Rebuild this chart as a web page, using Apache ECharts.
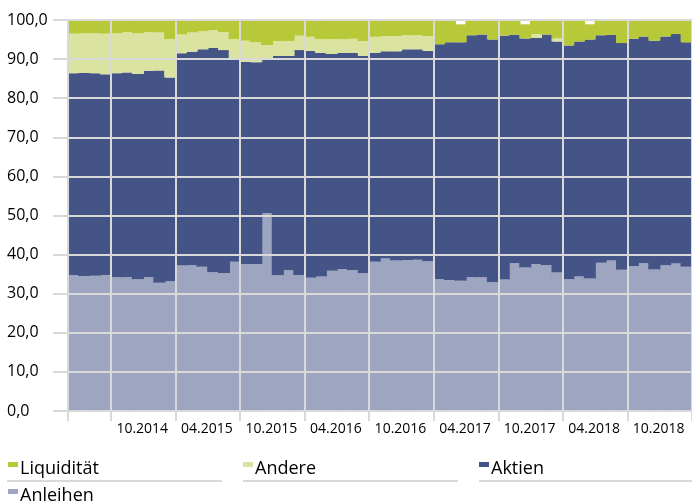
<!DOCTYPE html>
<html>
<head>
<meta charset="utf-8">
<script src="https://cdn.jsdelivr.net/npm/echarts@6/dist/echarts.min.js"></script>
<style>html,body{margin:0;padding:0;background:#fff;}#c{width:692px;height:502px;}</style>
</head>
<body>
<div id="c"></div>
<script>
var categories = [
 "06.2014","07.2014","08.2014","09.2014","10.2014","11.2014","12.2014","01.2015","02.2015","03.2015",
 "04.2015","05.2015","06.2015","07.2015","08.2015","09.2015","10.2015","11.2015","12.2015","01.2016",
 "02.2016","03.2016","04.2016","05.2016","06.2016","07.2016","08.2016","09.2016","10.2016","11.2016",
 "12.2016","01.2017","02.2017","03.2017","04.2017","05.2017","06.2017","07.2017","08.2017","09.2017",
 "10.2017","11.2017","12.2017","01.2018","02.2018","03.2018","04.2018","05.2018","06.2018","07.2018",
 "08.2018","09.2018","10.2018","11.2018","12.2018","01.2019","02.2019","03.2019"
];
var anleihen = [34.8,34.5,34.6,34.8,34.2,34.2,33.7,34.2,32.8,33.2,
 37.2,37.3,36.9,35.5,35.3,38.2,37.6,37.6,50.6,34.7,
 36.0,34.8,34.1,34.4,35.9,36.3,36.0,35.2,38.2,39.0,
 38.5,38.6,38.7,38.3,33.7,33.5,33.3,34.2,34.2,32.9,
 33.6,37.8,36.7,37.6,37.3,35.4,33.7,34.4,33.9,37.9,
 38.5,36.1,37.1,37.8,36.2,37.3,37.7,36.9];
var aktien = [51.6,52.0,51.8,51.3,52.2,52.4,52.5,52.8,54.3,52.1,
 54.3,54.6,55.6,57.4,57.0,51.6,51.7,51.6,39.3,56.1,
 54.8,57.5,58.0,57.2,55.4,55.3,55.6,55.6,53.4,53.0,
 53.5,53.9,53.8,53.8,60.1,60.8,61.0,61.9,62.1,62.1,
 62.4,58.4,58.6,57.8,59.0,59.1,59.8,60.1,61.1,58.2,
 57.7,58.0,58.1,58.0,58.5,58.5,58.7,57.4];
var andere = [10.1,10.1,10.2,10.4,10.2,10.3,10.4,9.9,9.7,9.8,
 4.8,4.9,4.6,4.5,4.6,5.3,5.4,5.1,3.7,3.8,
 3.8,3.7,3.6,3.5,3.8,3.5,3.6,3.8,4.1,3.9,
 3.9,3.6,3.6,3.8,0,0,0,0,0,0,
 0,0,0,1.0,0,0.8,0,0,0,0,
 0,0,0,0,0,0,0,0];
var liquiditaet = [3.5,3.4,3.4,3.5,3.4,3.1,3.4,3.1,3.2,4.9,
 3.7,3.2,2.9,2.6,3.1,4.9,5.3,5.7,6.4,5.4,
 5.4,4.0,4.3,4.9,4.9,4.9,4.8,5.4,4.3,4.1,
 4.1,3.9,3.9,4.1,6.2,5.7,4.6,3.9,3.7,5.0,
 4.0,3.8,3.6,3.6,3.7,4.7,6.5,5.5,3.9,3.9,
 3.8,5.9,4.8,4.2,5.3,4.2,3.6,5.7];
var yTicks = [0,10,20,30,40,50,60,70,80,90,100];

var FONT = "'Open Sans', 'Noto Sans', sans-serif";
var GRID = '#d9d9d9';
var colors = {Liquidität:'#b7c938', Andere:'#dae4a0', Aktien:'#455486', Anleihen:'#9ea5c0'};
var ICON = 'path://M0,0H10V5H0Z M0,14L0,14';

var chart = echarts.init(document.getElementById('c'), null, {renderer:'canvas'});
function mkSeries(name, data){
  return {name:name, type:'bar', stack:'total', data:data, barWidth:'112%', barGap:'-100%',
    itemStyle:{color:colors[name]}, emphasis:{disabled:true}, z:2};
}
function mkLegend(name, left, top){
  return {data:[name], left:left, top:top, padding:0, itemWidth:10, itemHeight:14, icon:ICON,
    selectedMode:false, symbolKeepAspect:true,
    textStyle:{fontFamily:FONT, fontSize:18, color:'#000', padding:[0,0,0,-3]}};
}
chart.setOption({
  animation:false,
  textStyle:{fontFamily:FONT},
  grid:{left:68, right:0, top:20, height:391, containLabel:false},
  legend:[mkLegend('Liquidität',8,460), mkLegend('Andere',243,460), mkLegend('Aktien',479,460), mkLegend('Anleihen',8,487)],
  xAxis:{type:'category', data:categories, boundaryGap:true, z:10,
    axisLine:{show:false},
    axisTick:{show:true, length:10, interval:function(i){return i===0 || i%6===4;}, lineStyle:{color:GRID,width:2}},
    splitLine:{show:true, interval:function(i){return i>0 && i%6===4;}, lineStyle:{color:GRID,width:2}},
    axisLabel:{interval:function(i){return i%6===4;}, align:'left', margin:11, fontSize:14, color:'#000', fontFamily:FONT}
  },
  yAxis:{type:'value', min:yTicks[0], max:yTicks[yTicks.length-1], interval:10, z:10,
    axisLine:{show:true, lineStyle:{color:GRID,width:2}},
    axisTick:{show:true, length:15, lineStyle:{color:GRID,width:2}},
    splitLine:{show:true, lineStyle:{color:GRID,width:2}},
    axisLabel:{align:'left', margin:61, fontSize:16, color:'#000', fontFamily:FONT,
      formatter:function(v){return v.toFixed(1).replace('.', ',');}}
  },
  graphic:[
    {type:'line', shape:{x1:7,y1:481,x2:222,y2:481}, style:{stroke:GRID,lineWidth:2}, silent:true},
    {type:'line', shape:{x1:243,y1:481,x2:458,y2:481}, style:{stroke:GRID,lineWidth:2}, silent:true},
    {type:'line', shape:{x1:479,y1:481,x2:692,y2:481}, style:{stroke:GRID,lineWidth:2}, silent:true}
  ],
  series:[mkSeries('Anleihen',anleihen), mkSeries('Aktien',aktien), mkSeries('Andere',andere), mkSeries('Liquidität',liquiditaet)]
});
</script>
</body>
</html>
